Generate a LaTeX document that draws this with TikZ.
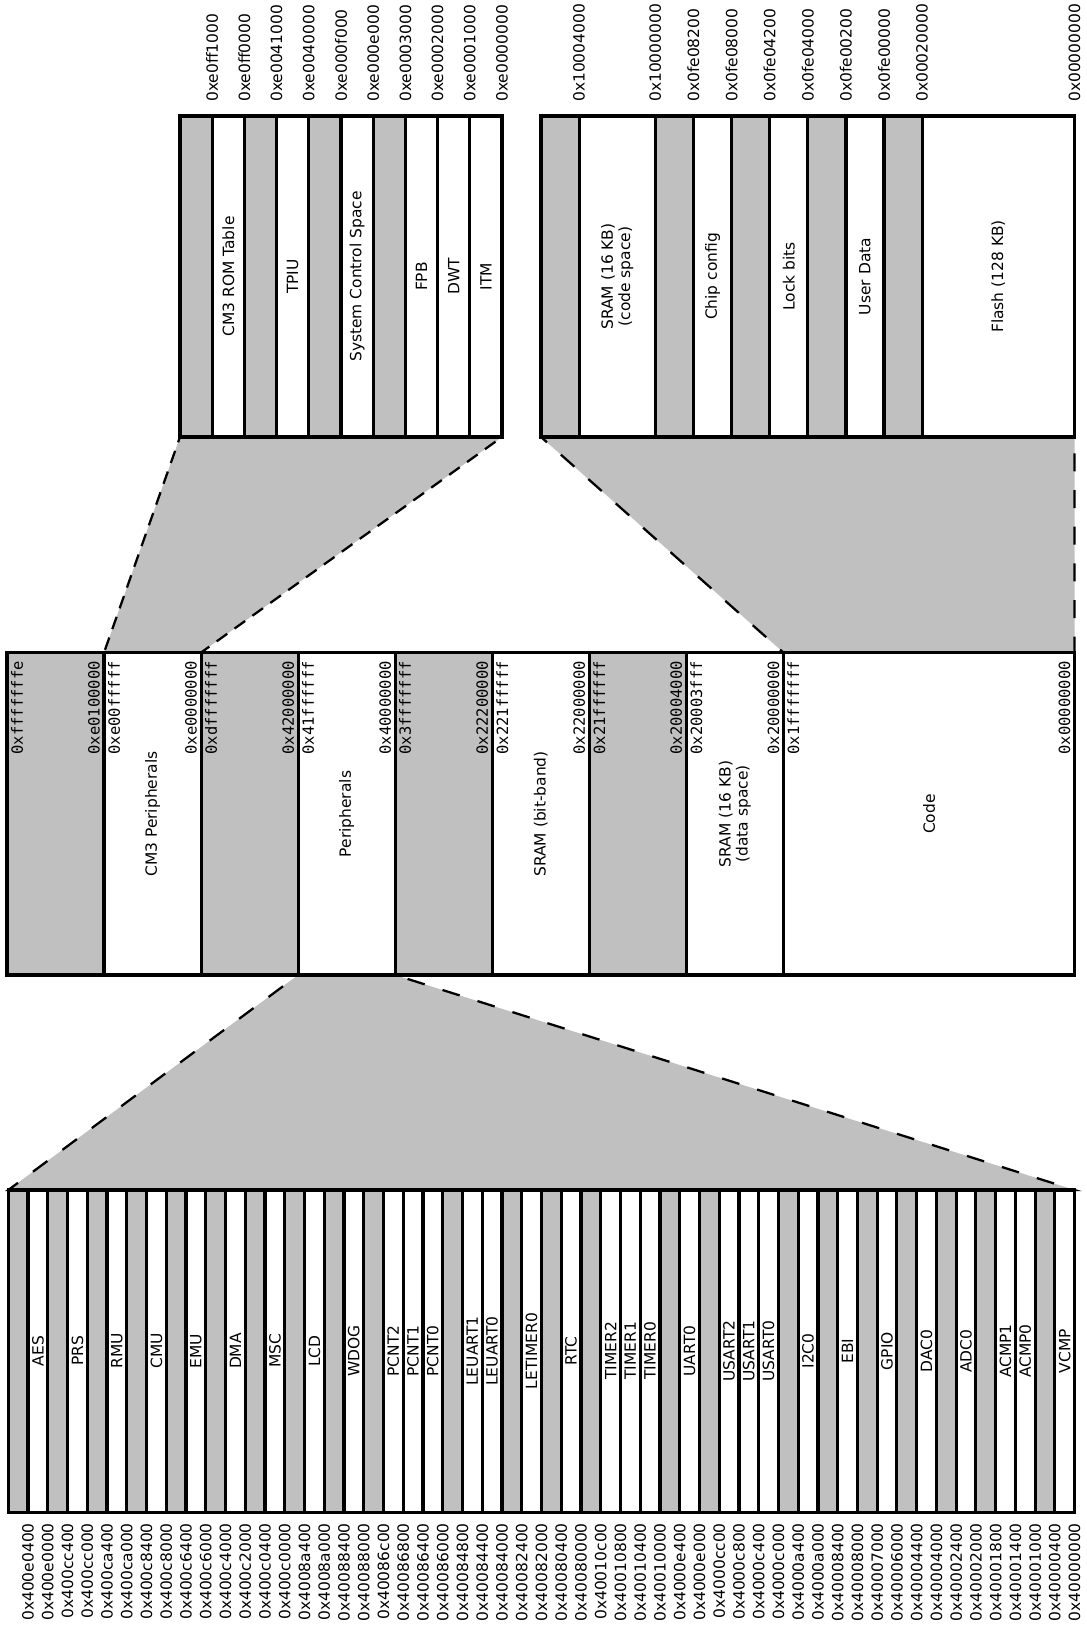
\documentclass[tikz,border=0pt]{standalone}
\usepackage{fontspec}
\setmainfont{DejaVu Sans}
\setmonofont{DejaVu Sans Mono}
\definecolor{G}{HTML}{C0C0C0}
\definecolor{W}{HTML}{FFFFFF}
\begin{document}
\begin{tikzpicture}[x=0.75pt,y=-0.75pt,
  memcell/.style={draw=black,line width=2.4pt},
  conn/.style={fill=G,draw=black,line width=1.7pt,dash pattern=on 13.5pt off 14pt},
  addrlab/.style={rotate=90,inner sep=0pt,font=\fontsize{11.6}{13}\selectfont},
  monolab/.style={rotate=90,inner sep=0pt,font=\fontsize{11.6}{13}\selectfont\ttfamily},
  regname/.style={rotate=90,inner sep=0pt,align=center,font=\fontsize{11.6}{12.8}\selectfont}]
\useasboundingbox (0,0) rectangle (1086,1627);
% anchor points of the connectors
\coordinate (tlBL) at (180,437);
\coordinate (tlBR) at (502,437);
\coordinate (mCmL) at (104.05,652.5);
\coordinate (mCmR) at (201.1,652.5);
\coordinate (trBL) at (541,437);
\coordinate (trBR) at (1074.6,437);
\coordinate (mCodeL) at (783.4,652.5);
\coordinate (mCodeR) at (1074.6,652.5);
\coordinate (mPL) at (298.15,975);
\coordinate (mPR) at (395.2,975);
\coordinate (bTL) at (8.3,1190);
\coordinate (bTR) at (1074.6,1190);
% connectors
\draw[conn,dash pattern=on 9.75pt off 6.75pt] (tlBL) -- (tlBR) -- (mCmR) -- (mCmL) -- cycle;
\draw[conn] (trBL) -- (trBR) -- (mCodeR) -- (mCodeL) -- cycle;
\draw[conn] (mPL) -- (mPR) -- (bTR) -- (bTL) -- cycle;
% top-left block
\foreach \c/\t [count=\i] in {G/{},W/CM3 ROM Table,G/{},W/TPIU,G/{},W/System Control Space,G/{},W/FPB,W/DWT,W/ITM}{
  \pgfmathsetmacro\xa{180+32.2*(\i-1)}
  \pgfmathsetmacro\xb{180+32.2*\i}
  \draw[memcell,fill=\c] (\xa,116) rectangle (\xb,437);
  \node[regname] (tl\i) at ({(\xa+\xb)/2},276.5) {\t};
}
\foreach \l [count=\i] in {0xe0ff1000,0xe0ff0000,0xe0041000,0xe0040000,0xe000f000,0xe000e000,0xe0003000,0xe0002000,0xe0001000,0xe0000000}{
  \node[addrlab,anchor=west] (tla\i) at ({180+32.2*\i},102) {\l};
}
% top-right block
\foreach \a/\b/\c/\t [count=\i] in {541/579.1/G/{},579.1/655.3/W/{SRAM (16 KB)\\(code space)},655.3/693.4/G/{},693.4/731.6/W/Chip config,731.6/769.7/G/{},769.7/807.8/W/Lock bits,807.8/845.9/G/{},845.9/884/W/User Data,884/922.1/G/{},922.1/1074.6/W/Flash (128 KB)}{
  \draw[memcell,fill=\c] (\a,116) rectangle (\b,437);
  \node[regname] (tr\i) at ({(\a+\b)/2},276.5) {\t};
}
\foreach \x/\l [count=\i] in {579.1/0x10004000,655.3/0x10000000,693.4/0x0fe08200,731.6/0x0fe08000,769.7/0x0fe04200,807.8/0x0fe04000,845.9/0x0fe00200,884/0x0fe00000,922.1/0x00020000,1074.6/0x00000000}{
  \node[addrlab,anchor=west] (tra\i) at (\x,102) {\l};
}
% middle block
\foreach \a/\b/\c/\t/\hi/\lo [count=\i] in {7/104.05/G/{}/0xfffffffe/0xe0100000,104.05/201.1/W/CM3 Peripherals/0xe00fffff/0xe0000000,201.1/298.15/G/{}/0xdfffffff/0x42000000,298.15/395.2/W/Peripherals/0x41ffffff/0x40000000,395.2/492.25/G/{}/0x3fffffff/0x22200000,492.25/589.3/W/SRAM (bit-band)/0x221fffff/0x22000000,589.3/686.35/G/{}/0x21ffffff/0x20004000,686.35/783.4/W/{SRAM (16 KB)\\(data space)}/0x20003fff/0x20000000,783.4/1074.6/W/Code/0x1fffffff/0x00000000}{
  \draw[memcell,fill=\c] (\a,652.5) rectangle (\b,975);
  \node[regname] (m\i) at ({(\a+\b)/2},814) {\t};
  \node[monolab,anchor=east] (mh\i) at ({\a+10},661) {\hi};
  \node[monolab,anchor=east] (ml\i) at ({\b-10},661) {\lo};
}
% bottom block
\foreach \c/\t [count=\i] in {G/{},W/AES,G/{},W/PRS,G/{},W/RMU,G/{},W/CMU,G/{},W/EMU,G/{},W/DMA,G/{},W/MSC,G/{},W/LCD,G/{},W/WDOG,G/{},W/PCNT2,W/PCNT1,W/PCNT0,G/{},W/LEUART1,W/LEUART0,G/{},W/LETIMER0,G/{},W/RTC,G/{},W/TIMER2,W/TIMER1,W/TIMER0,G/{},W/UART0,G/{},W/USART2,W/USART1,W/USART0,G/{},W/I2C0,G/{},W/EBI,G/{},W/GPIO,G/{},W/DAC0,G/{},W/ADC0,G/{},W/ACMP1,W/ACMP0,G/{},W/VCMP}{
  \pgfmathsetmacro\xa{8.3+19.7463*(\i-1)}
  \pgfmathsetmacro\xb{8.3+19.7463*\i}
  \draw[memcell,fill=\c] (\xa,1190) rectangle (\xb,1512.5);
  \node[regname] (b\i) at ({(\xa+\xb)/2},1351) {\t};
}
\foreach \l [count=\i] in {0x400e0400,0x400e0000,0x400cc400,0x400cc000,0x400ca400,0x400ca000,0x400c8400,0x400c8000,0x400c6400,0x400c6000,0x400c4000,0x400c2000,0x400c0400,0x400c0000,0x4008a400,0x4008a000,0x40088400,0x40088000,0x40086c00,0x40086800,0x40086400,0x40086000,0x40084800,0x40084400,0x40084000,0x40082400,0x40082000,0x40080400,0x40080000,0x40010c00,0x40010800,0x40010400,0x40010000,0x4000e400,0x4000e000,0x4000cc00,0x4000c800,0x4000c400,0x4000c000,0x4000a400,0x4000a000,0x40008400,0x40008000,0x40007000,0x40006000,0x40004400,0x40004000,0x40002400,0x40002000,0x40001800,0x40001400,0x40001000,0x40000400,0x40000000}{
  \node[addrlab,anchor=east] (ba\i) at ({8.3+19.7463*\i},1523) {\l};
}
\end{tikzpicture}
\end{document}
